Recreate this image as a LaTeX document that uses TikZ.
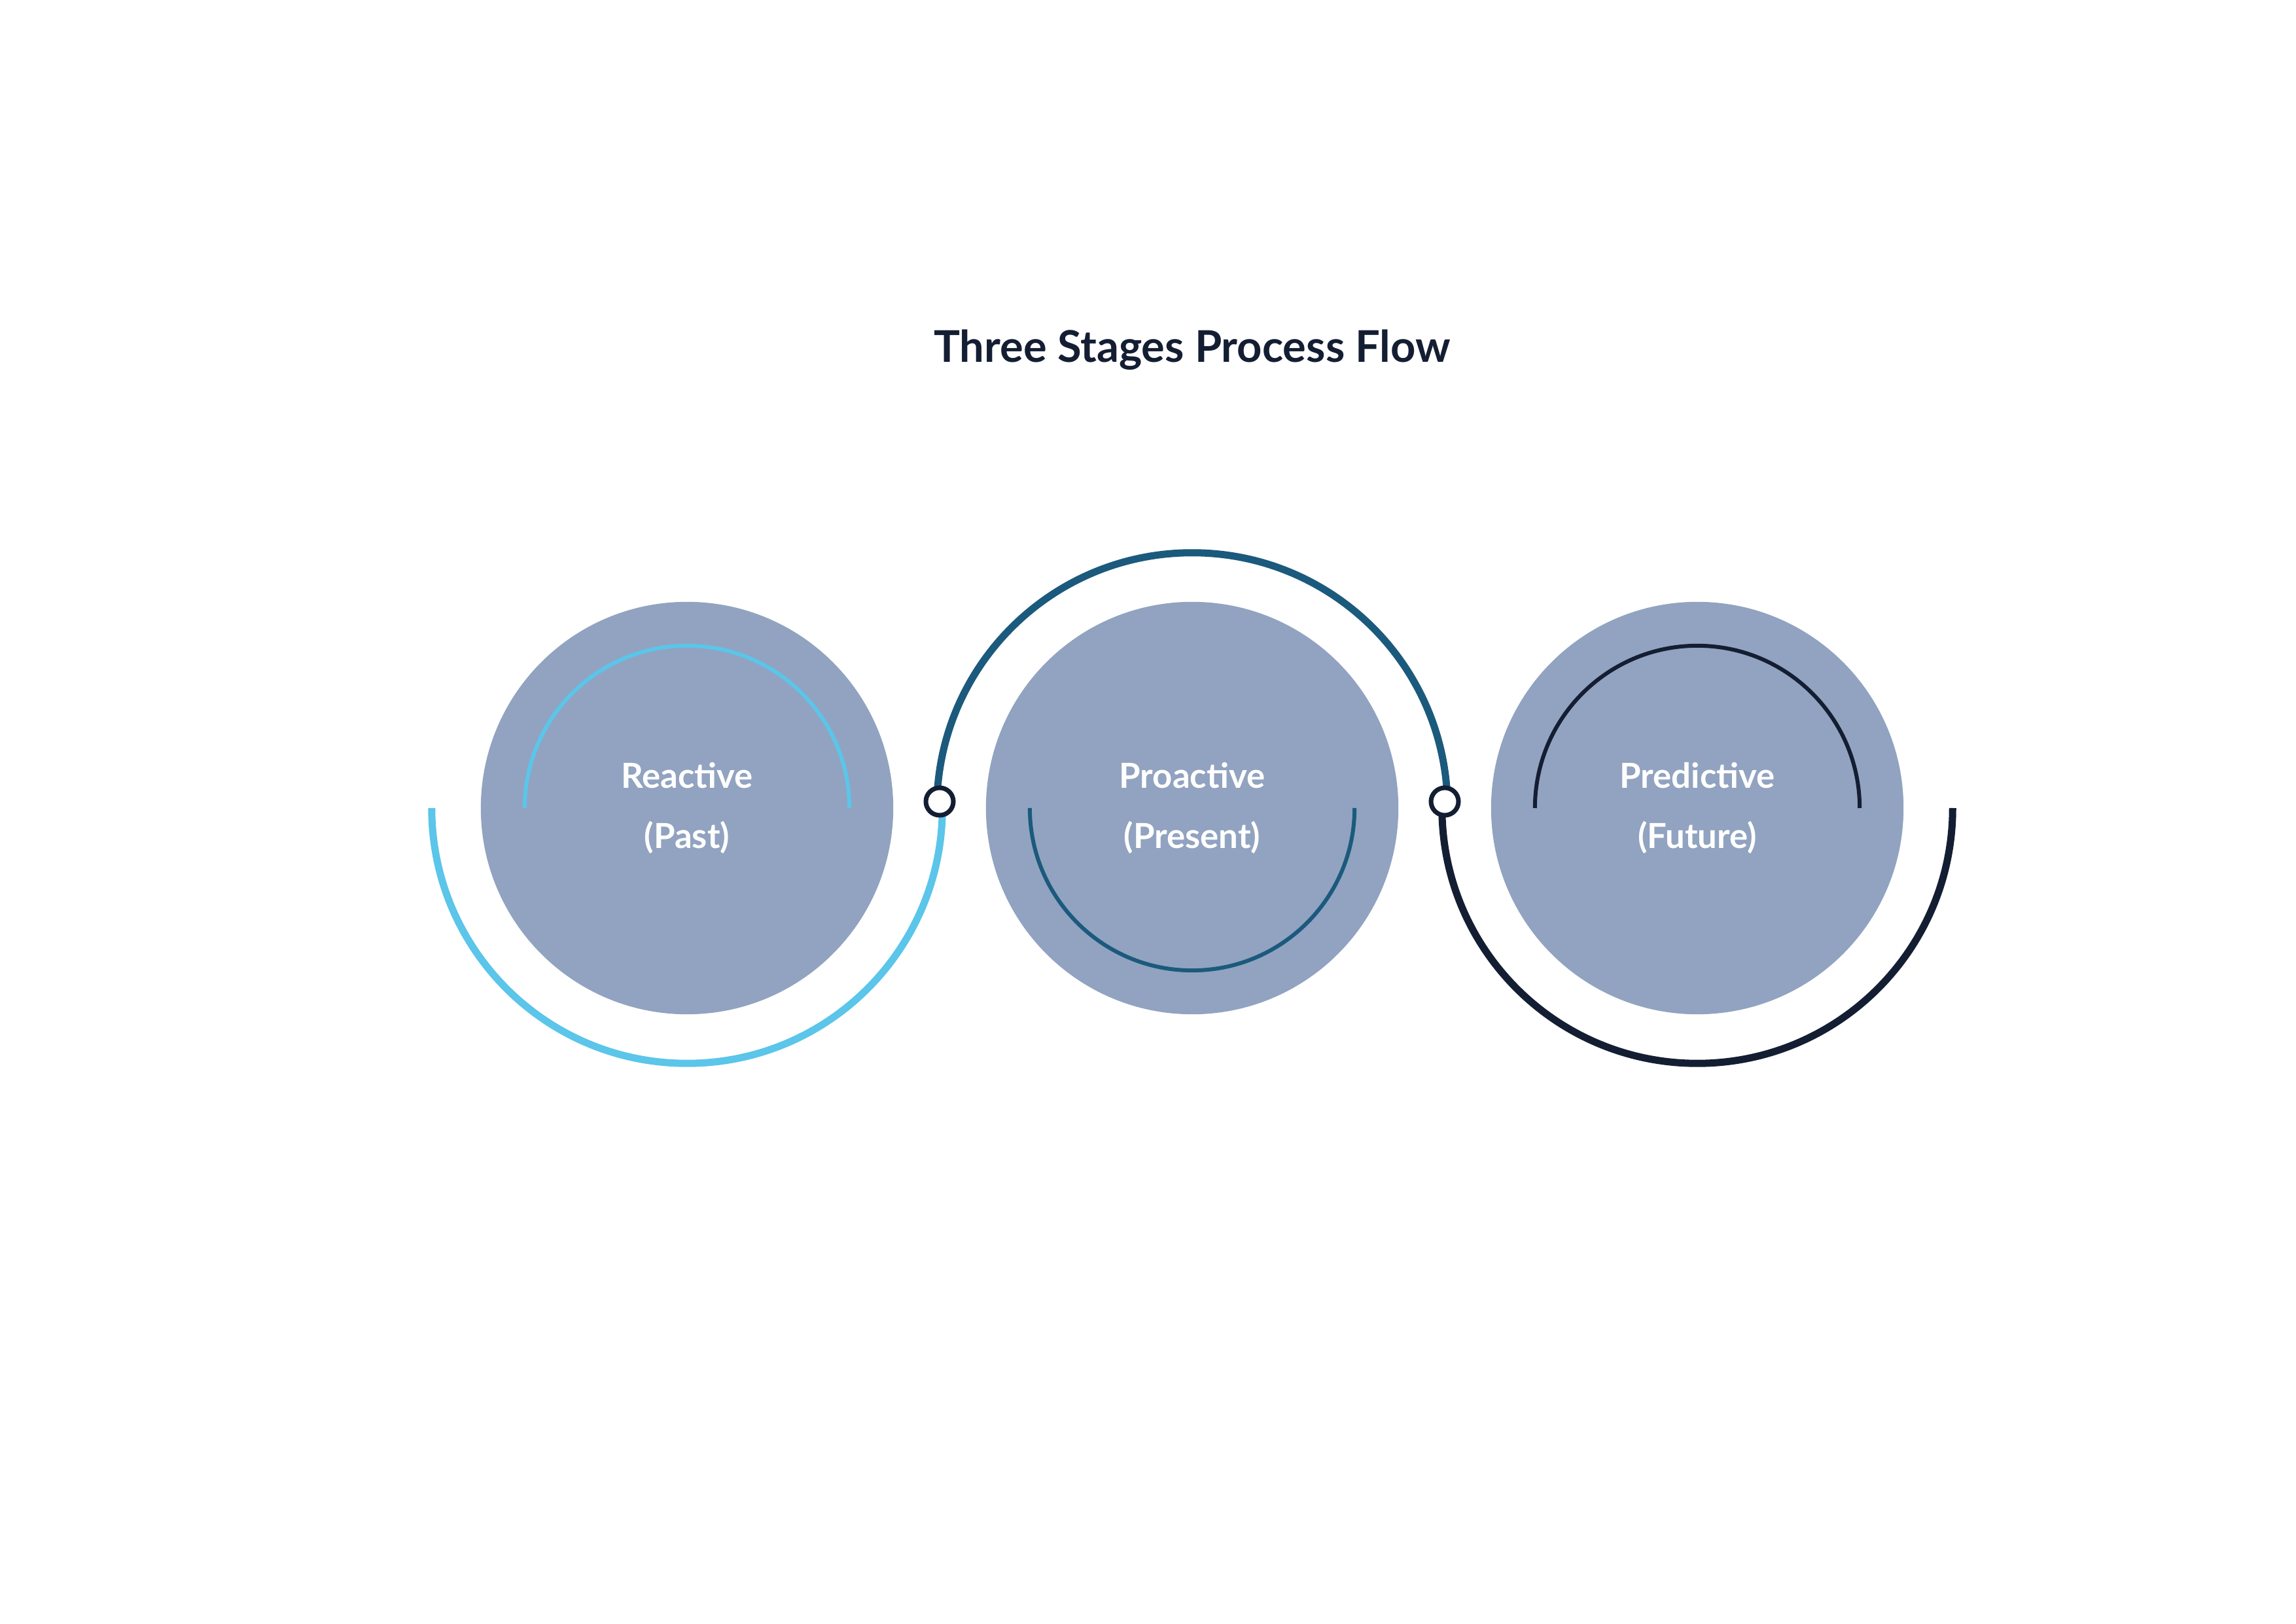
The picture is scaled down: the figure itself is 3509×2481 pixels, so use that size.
\documentclass[tikz,border=0pt]{standalone}
\usepackage{fontspec}
\setmainfont{Lato}
\definecolor{cfill}{HTML}{91A3C0}
\definecolor{clight}{HTML}{5BC5EA}
\definecolor{cteal}{HTML}{1B5A7D}
\definecolor{cdark}{HTML}{141E33}
\begin{document}
\begin{tikzpicture}[x=0.01cm,y=0.01cm,
  disk/.style={circle,fill=cfill,minimum size=6.3cm,inner sep=0,text=white,font=\bfseries\fontsize{15}{26}\selectfont,align=center},
  outer/.style={line width=0.11cm},
  inner/.style={line width=0.06cm},
  dot/.style={circle,draw=cdark,fill=white,line width=0.07cm,minimum size=0.42cm,inner sep=0}]
\useasboundingbox (0,0) rectangle (3509,2481);
\node[font=\bfseries\fontsize{19}{22}\selectfont,text=cdark] (title) at (1822,1946) {Three Stages Process Flow};
\node[disk] (c1) at (1050,1246) {Reactive\\(Past)};
\node[disk] (c2) at (1822,1246) {Proactive\\(Present)};
\node[disk] (c3) at (2594,1246) {Predictive\\(Future)};
\draw[inner,clight] ([xshift=-2.48cm]c1.center) arc[start angle=180,end angle=0,radius=2.48cm];
\draw[inner,cteal] ([xshift=-2.48cm]c2.center) arc[start angle=180,end angle=360,radius=2.48cm];
\draw[inner,cdark] ([xshift=-2.48cm]c3.center) arc[start angle=180,end angle=0,radius=2.48cm];
\draw[outer,clight] ([xshift=-3.9cm]c1.center) arc[start angle=180,end angle=360,radius=3.9cm];
\draw[outer,cteal] ([xshift=-3.9cm]c2.center) arc[start angle=180,end angle=0,radius=3.9cm];
\draw[outer,cdark] ([xshift=-3.9cm]c3.center) arc[start angle=180,end angle=360,radius=3.9cm];
\node[dot] (d1) at (1436,1256) {};
\node[dot] (d2) at (2208,1256) {};
\end{tikzpicture}
\end{document}
